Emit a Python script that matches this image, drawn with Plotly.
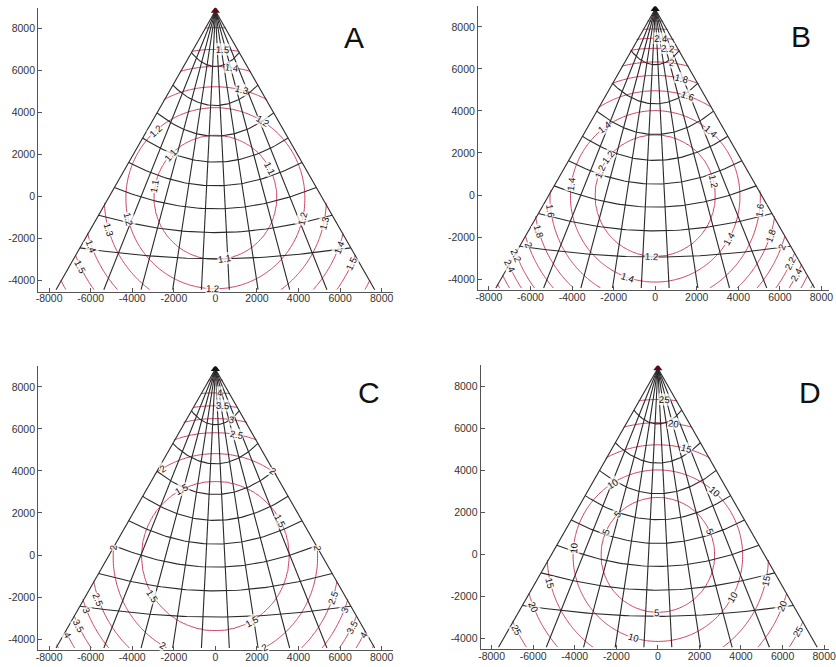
import numpy as np
import plotly.graph_objects as go

# ---------------- data ----------------
meridians_deg = [0, 10, 20, 30, 40, 50, 60, 70, 80, 90]   # black "radial" grid lines
parallels_deg = [10, 20, 30, 40, 50, 60, 70, 80]          # black arc grid lines
sphere_radius = 6260                                       # map units

panel_letters = ["A", "B", "C", "D"]
levels_A = [1.1, 1.2, 1.3, 1.4, 1.5, 1.6]
radii_A = [2960, 4310, 5340, 6350, 7200, 8300]
levels_B = [1.2, 1.4, 1.6, 1.8, 2.0, 2.2, 2.4, 2.6, 2.8]
radii_B = [2900, 4080, 5060, 5820, 6490, 7180, 7680, 8150, 8550]
levels_C = [1.5, 2.0, 2.5, 3.0, 3.5, 4.0, 4.5]
radii_C = [3560, 4920, 5960, 6660, 7300, 7950, 8600]
levels_D = [5, 10, 15, 20, 25]
radii_D = [2740, 4080, 5320, 6420, 7580]

# contour-label placements: (level, polar angle in degrees about the centre)
labels_A = [(1.5, 87), (1.4, 83), (1.3, 76), (1.2, 58), (1.2, 133), (1.1, 138), (1.1, 170),
            (1.1, 27), (1.2, 194), (1.3, 197), (1.4, 201.5), (1.5, 207), (1.2, 346),
            (1.3, 346.5), (1.4, 338), (1.5, 334), (1.1, 278.6), (1.2, 268.5)]
labels_B = [(2.4, 88), (2.2, 85), (2.0, 83), (1.8, 77), (1.6, 72), (1.4, 127.6), (1.4, 48.3),
            (1.2, 142), (1.2, 157), (1.4, 173), (1.6, 188.7), (1.8, 197.2), (2.0, 201.2),
            (2.2, 203.2), (2.4, 205.7), (1.2, 13), (1.6, 351.7), (1.8, 340.5), (1.4, 329.7),
            (2.0, 337.8), (2.2, 333.2), (2.4, 330.8), (1.2, 266.6), (1.4, 251.5)]
labels_C = [(4.0, 88.5), (3.5, 87.3), (3.0, 83.3), (2.5, 80), (2.0, 121.5), (2.0, 55.7),
            (1.5, 118), (1.5, 28), (2.0, 176), (2.0, 4), (1.5, 213), (2.5, 200.4), (3.0, 203),
            (3.5, 207), (4.0, 208), (2.5, 340.4), (3.0, 337), (3.5, 332.4), (4.0, 331.7),
            (1.5, 299), (2.0, 239.7), (2.0, 298)]
labels_D = [(25, 87.6), (20, 83), (15, 74.5), (10, 122.6), (10, 47.5), (5, 136), (5, 156.4),
            (5, 23.2), (10, 175.8), (15, 194.8), (20, 202.9), (25, 208.1), (15, 346.6),
            (10, 330.2), (20, 337.7), (25, 331.3), (5, 268.5), (10, 253.9)]

x_ticks = [-8000, -6000, -4000, -2000, 0, 2000, 4000, 6000, 8000]
y_ticks = [-4000, -2000, 0, 2000, 4000, 6000, 8000]

# ---------------- geometry helpers ----------------
R = sphere_radius
c = np.array([1.0, 1.0, 1.0]) / np.sqrt(3)
ux = np.array([1.0, -1.0, 0.0]) / np.sqrt(2)
uy = np.array([-1.0, -1.0, 2.0]) / np.sqrt(6)
TILT = 0.035


def project(lat_deg, lon_deg):
    la = np.radians(lat_deg)
    lo = np.radians(lon_deg)
    p = np.stack([np.cos(la) * np.cos(lo), np.cos(la) * np.sin(lo), np.sin(la)], axis=-1)
    d = p @ c
    return R * (p @ ux) / d, R * (p @ uy) / d


def grid_lines():
    xs, ys = [], []
    for lon in meridians_deg:
        lat = np.linspace(0, 90, 40)
        X, Y = project(lat, np.full_like(lat, lon))
        xs += [round(float(v), 1) for v in X] + [None]
        ys += [round(float(v), 1) for v in Y] + [None]
    for lat in parallels_deg:
        lon = np.linspace(0, 90, 60)
        X, Y = project(np.full_like(lon, lat), lon)
        xs += [round(float(v), 1) for v in X] + [None]
        ys += [round(float(v), 1) for v in Y] + [None]
    return xs, ys


apex_x, apex_y = project(np.array([90.0]), np.array([45.0]))

# field grid
gx = np.round(np.linspace(-7800, 7800, 200), 1)
gy = np.round(np.linspace(-4500, 8950, 175), 1)
GX, GY = np.meshgrid(gx, gy)
P = c[None, None, :] + (GX[..., None] / R) * ux + (GY[..., None] / R) * uy
inside = np.all(P >= -0.008, axis=-1)
rr = np.hypot(GX, GY)
rho = rr + TILT * GY * rr / 8900.0


def field(levels, radii):
    step = levels[1] - levels[0]
    far = 13000.0
    ext = levels[-1] + step * (far - radii[-1]) / (radii[-1] - radii[-2])
    z = np.interp(rho, [0] + radii + [far], [levels[0] - step] + levels + [ext])
    z = np.round(z, 4)
    zl = [[(float(v) if ok else None) for v, ok in zip(row, mrow)] for row, mrow in zip(z, inside)]
    return zl, step


def label_xy(levels, radii, level, psi_deg):
    rho_l = radii[levels.index(level)]
    psi = np.radians(psi_deg)
    k = TILT * np.sin(psi) / 8900.0
    if abs(k) < 1e-12:
        r = rho_l
    else:
        r = (-1 + np.sqrt(1 + 4 * k * rho_l)) / (2 * k)
    t = psi_deg - 90.0
    while t > 90:
        t -= 180
    while t <= -90:
        t += 180
    return r * np.cos(psi), r * np.sin(psi), -t


panel_data = {
    "A": (levels_A, radii_A, labels_A),
    "B": (levels_B, radii_B, labels_B),
    "C": (levels_C, radii_C, labels_C),
    "D": (levels_D, radii_D, labels_D),
}

# ---------------- layout geometry (pixels) ----------------
W, H = 836, 667
S = 47.6  # map units per pixel
XR = 8530
YB, YT = -4520, 8990
panel_px = {
    "A": (215.7, 196.7),
    "B": (660.3, 195.0),
    "C": (215.7, 555.0),
    "D": (663.0, 554.3),
}
letter_px = {"A": (356, 37.5), "B": (808, 36.5), "C": (371, 392.5), "D": (817, 392.5)}
apex_color = {"A": "#5a0a1a", "B": "#111111", "C": "#111111", "D": "#5a0a1a"}

RED = "#cc3c5c"
FONT = "Liberation Sans, Arial, sans-serif"
fig = go.Figure()
gxs, gys = grid_lines()
layout = dict(width=W, height=H, margin=dict(l=0, r=0, t=0, b=0),
              paper_bgcolor="white", plot_bgcolor="white", showlegend=False)
annotations = []

for i, key in enumerate(panel_letters):
    n = "" if i == 0 else str(i + 1)
    xa, ya = "x" + n, "y" + n
    levels, radii, labs = panel_data[key]
    z, step = field(levels, radii)
    fig.add_trace(go.Contour(
        x=gx, y=gy, z=z, xaxis=xa, yaxis=ya,
        contours=dict(start=levels[0], end=levels[-1] + step * 0.01, size=step,
                      coloring="lines", showlabels=False),
        colorscale=[[0, RED], [1, RED]], showscale=False,
        line=dict(width=1), hoverinfo="skip"))
    fig.add_trace(go.Scatter(x=gxs, y=gys, xaxis=xa, yaxis=ya, mode="lines",
                             line=dict(color="#2a2a2a", width=1.1), hoverinfo="skip"))
    fig.add_trace(go.Scatter(x=apex_x, y=apex_y, xaxis=xa, yaxis=ya, mode="markers",
                             marker=dict(symbol="triangle-up", size=8, color=apex_color[key]),
                             hoverinfo="skip"))
    for lev, psi in labs:
        lxv, lyv, ang = label_xy(levels, radii, lev, psi)
        annotations.append(dict(text=f"{lev:g}", x=float(lxv), y=float(lyv), xref=xa, yref=ya,
                                showarrow=False, textangle=float(ang), xanchor="center",
                                yanchor="middle", bgcolor="rgba(255,255,255,0.75)", borderpad=0,
                                font=dict(family=FONT, size=9.5, color="#111")))

    zx, zy = panel_px[key]
    left_px = zx - XR / S
    right_px = min(W, zx + XR / S)
    xr_right = (right_px - zx) * S
    top_px = zy - YT / S
    bot_px = zy - YB / S
    common = dict(showline=True, linecolor="#555", linewidth=1, ticks="inside", ticklen=4,
                  tickcolor="#555", showgrid=False, zeroline=False, mirror=False,
                  tickfont=dict(family=FONT, size=10.5, color="#333"), fixedrange=True,
                  ticklabeloverflow="allow")
    layout["xaxis" + n] = dict(common, domain=[left_px / W, right_px / W], range=[-XR, xr_right],
                               tickvals=x_ticks, ticktext=[str(v) for v in x_ticks], anchor=ya,
                               ticklabelstandoff=-3)
    layout["yaxis" + n] = dict(common, domain=[1 - bot_px / H, 1 - top_px / H], range=[YB, YT],
                               tickvals=y_ticks, ticktext=[str(v) for v in y_ticks], anchor=xa)
    lx, ly = letter_px[key]
    annotations.append(dict(text=key, x=lx / W, y=1 - ly / H, xref="paper", yref="paper",
                            showarrow=False, xanchor="center", yanchor="middle",
                            font=dict(family=FONT, size=30, color="#111")))

layout["annotations"] = annotations
fig.update_layout(**layout)
fig.write_html("out.html", include_plotlyjs=True, config={"displayModeBar": False},
               post_script="document.body.style.margin='0';document.body.style.overflow='hidden';")
